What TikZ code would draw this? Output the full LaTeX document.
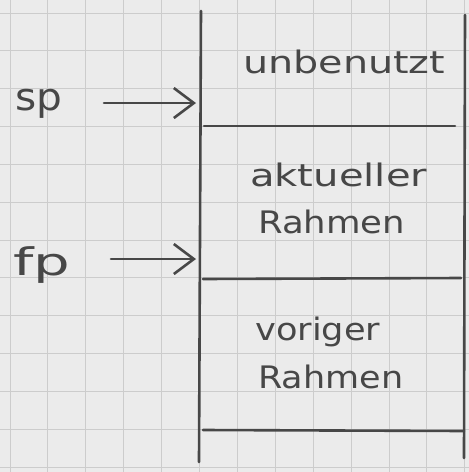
\documentclass[tikz,border=0pt]{standalone}
\usepackage{fontspec}
\setmainfont{DejaVu Sans}
\usetikzlibrary{arrows.meta}
\definecolor{paper}{HTML}{EBEBEB}
\definecolor{gridc}{HTML}{CCCCCC}
\definecolor{ink}{HTML}{474747}
\newcommand{\hw}[2]{\resizebox{#1}{\height}{#2}}
\tikzset{
  hand/.style={anchor=base west, inner sep=0pt, text=ink, font=\fontsize{31}{34}\selectfont},
  inkline/.style={draw=ink, line width=2.6pt, line cap=round},
  pointer/.style={draw=ink, line width=2.6pt, line cap=round, -{Straight Barb[length=20pt,width=30pt,line width=2.6pt]}},
  gridline/.style={draw=gridc, line width=1pt}
}
\begin{document}
\begin{tikzpicture}[x=1pt,y=-1pt]
\fill[paper] (0,0) rectangle (469,472);
\useasboundingbox (0,0) rectangle (469,472);
\foreach \i in {0,...,12} {
  \draw[gridline] ({10+37.9*\i},0) -- ({10+37.9*\i},472);
  \draw[gridline] (0,{13+37.85*\i}) -- (469,{13+37.85*\i});
}
% box
\draw[inkline] (201,11) -- (199,462);
\draw[inkline] (465,15) -- (464,458);
\draw[inkline] (204,126) -- (455,126);
\draw[inkline] (203,279) -- (461,278);
\draw[inkline] (203,430) -- (464,431);
% texts
\node[hand] (unb) at (243,73) {\hw{202pt}{unbenutzt}};
\node[hand] (akt) at (250,186) {\hw{177pt}{aktueller}};
\node[hand] (rah1) at (258,233) {\hw{147pt}{Rahmen}};
\node[hand] (vor) at (255,340) {\hw{125pt}{voriger}};
\node[hand] (rah2) at (258,388) {\hw{145pt}{Rahmen}};
\node[hand, font=\fontsize{38}{40}\selectfont] (sp) at (15,110) {\hw{47pt}{sp}};
\node[hand, font=\fontsize{38}{40}\selectfont] (fp) at (13,275) {\hw{57pt}{fp}};
% pointers
\coordinate (sps) at (104,103);
\coordinate (spt) at (196,103);
\coordinate (fps) at (111,259);
\coordinate (fpt) at (196,259);
\draw[pointer] (sps) -- (spt);
\draw[pointer] (fps) -- (fpt);
\end{tikzpicture}
\end{document}
